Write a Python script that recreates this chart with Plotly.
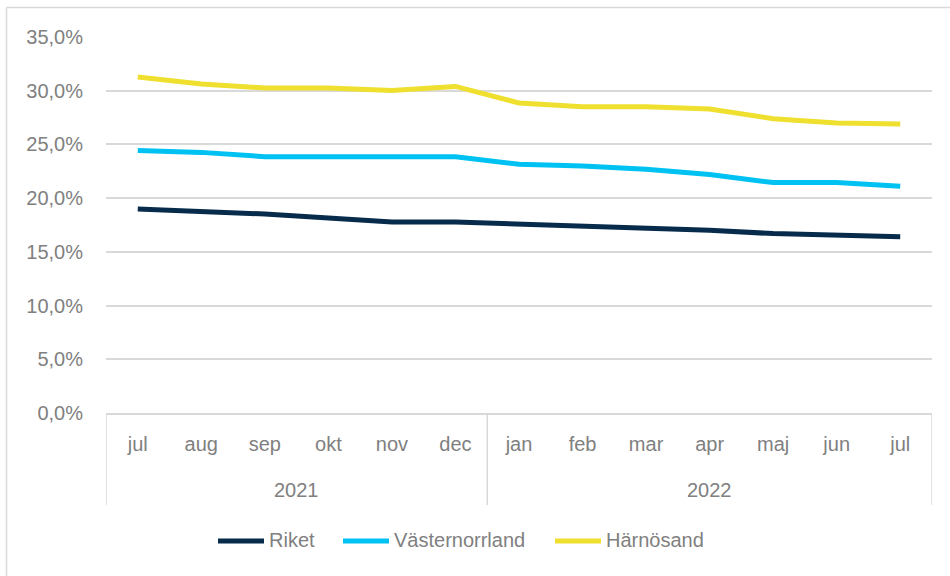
import plotly.graph_objects as go

months = ["jul", "aug", "sep", "okt", "nov", "dec",
          "jan", "feb", "mar", "apr", "maj", "jun", "jul"]
years = ["2021", "2022"]
year_counts = [6, 7]

riket = [18.98, 18.76, 18.52, 18.15, 17.78, 17.78,
         17.6, 17.4, 17.2, 17.0, 16.7, 16.5, 16.4]
vasternorrland = [24.44, 24.26, 23.86, 23.86, 23.86, 23.86,
                  23.15, 23.0, 22.7, 22.2, 21.45, 21.45, 21.1]
harnosand = [31.27, 30.62, 30.25, 30.25, 30.03, 30.4,
             28.86, 28.5, 28.5, 28.3, 27.4, 27.0, 26.9]

y_ticks = [0, 5, 10, 15, 20, 25, 30, 35]
y_ticklabels = ["0,0%", "5,0%", "10,0%", "15,0%", "20,0%", "25,0%", "30,0%", "35,0%"]

series_names = ["Riket", "Västernorrland", "Härnösand"]
series_values = [riket, vasternorrland, harnosand]
series_colors = ["#072B4A", "#00C2F2", "#EFE030"]

FONT = "Liberation Sans"
GREY = "#808080"
LINE = "#D9D9D9"

# layout geometry (pixels)
W, H = 950, 576
L, R, T, B = 106, 18, 37, 163
PW, PH = W - L - R, H - T - B


def px_x(p):
    return (p - L) / PW


def px_y(p):
    return (H - B - p) / PH


xs = list(range(len(months)))

fig = go.Figure()
for name, vals, col in zip(series_names, series_values, series_colors):
    fig.add_trace(go.Scatter(
        x=xs, y=vals, name=name, mode="lines",
        line=dict(color=col, width=5), showlegend=False,
    ))

shapes = []
annotations = []

# year labels and group dividers of the category axis
start = 0
bounds = [-0.5]
for yr, n in zip(years, year_counts):
    annotations.append(dict(
        x=start + (n - 1) / 2, y=px_y(490), xref="x", yref="paper",
        text=yr, showarrow=False, yanchor="middle",
        font=dict(family=FONT, size=20, color=GREY)))
    start += n
    bounds.append(start - 0.5)
for b in bounds:
    shapes.append(dict(type="line", xref="x", yref="paper",
                       x0=b, x1=b, y0=0, y1=px_y(505),
                       line=dict(color=LINE, width=1.5)))

# legend (key line + label), laid out along the bottom
legend_key_x = [216, 341, 553]
for name, col, kx in zip(series_names, series_colors, legend_key_x):
    shapes.append(dict(type="line", xref="paper", yref="paper",
                       x0=px_x(kx + 2), x1=px_x(kx + 48), y0=px_y(541), y1=px_y(541),
                       line=dict(color=col, width=5)))
    annotations.append(dict(
        x=px_x(kx + 51), y=px_y(540), xref="paper", yref="paper",
        text=name, showarrow=False, xanchor="left", yanchor="middle",
        font=dict(family=FONT, size=20, color=GREY)))

# outer chart frame (left and top edges)
shapes.append(dict(type="line", xref="paper", yref="paper",
                   x0=px_x(6.5), x1=px_x(6.5), y0=px_y(7.5), y1=px_y(580),
                   line=dict(color=LINE, width=1.5)))
shapes.append(dict(type="line", xref="paper", yref="paper",
                   x0=px_x(6.5), x1=px_x(955), y0=px_y(7.5), y1=px_y(7.5),
                   line=dict(color=LINE, width=1.5)))

fig.update_layout(
    width=W, height=H,
    margin=dict(l=L, r=R, t=T, b=B),
    paper_bgcolor="white", plot_bgcolor="white",
    font=dict(family=FONT, size=20, color=GREY),
    showlegend=False,
    xaxis=dict(
        range=[-0.5, len(months) - 0.5],
        tickvals=xs, ticktext=months,
        showgrid=False, zeroline=False,
        showline=True, linecolor=LINE, linewidth=1.5,
        ticks="", ticklabelstandoff=12,
        tickfont=dict(family=FONT, size=20, color=GREY),
    ),
    yaxis=dict(
        range=[0, 35], tickvals=y_ticks, ticktext=y_ticklabels,
        showgrid=True, gridcolor=LINE, gridwidth=1.5,
        zeroline=False, showline=False, ticks="",
        ticklabelstandoff=22,
        tickfont=dict(family=FONT, size=20, color=GREY),
    ),
    shapes=shapes,
    annotations=annotations,
)

fig.write_html("out.html", config={"displayModeBar": False},
               post_script="document.body.style.margin='0';")
